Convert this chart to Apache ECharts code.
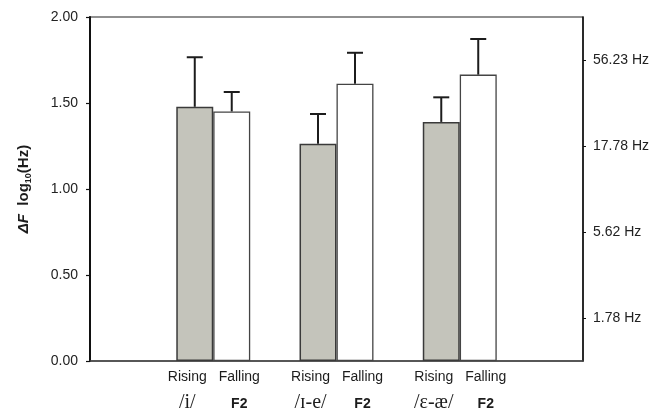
<!DOCTYPE html>
<html>
<head>
<meta charset="utf-8">
<script src="https://cdn.jsdelivr.net/npm/echarts@6/dist/echarts.min.js"></script>
<style>
  html, body { margin: 0; padding: 0; background: #fff; }
  #chart { width: 665px; height: 408px; }
</style>
</head>
<body>
<div id="chart"></div>
<script>
// Vowel groups; the empty first and last slots keep the groups off the frame edges
var vowels = ['', '/i/', '/\u026a-e/', '/\u025b-\u00e6/', ''];
// Mean frequency change, log10(Hz)
var risingMean = ['-', 1.478, 1.263, 1.390, '-'];
var fallingMean = ['-', 1.451, 1.612, 1.665, '-'];
// Upper error (log10 units above the mean)
var risingErr = [null, 0.288, 0.173, 0.143, null];
var fallingErr = [null, 0.113, 0.180, 0.207, null];
// Left axis ticks and right-axis (Hz) tick positions
var leftTicks = [0, 0.5, 1.0, 1.5, 2.0];
var hzTickLogs = [0.25, 0.75, 1.25, 1.75];
var hzTickLabels = hzTickLogs.map(function (v) { return Math.pow(10, v).toFixed(2) + ' Hz'; });

var SANS = 'Liberation Sans, Arial, sans-serif';
var SERIF = 'Liberation Serif, Times New Roman, serif';
var INK = '#1c1c1c';

function errorData(means, errs) {
  var out = [];
  for (var i = 0; i < means.length; i++) {
    if (means[i] !== '-' && errs[i] != null) out.push([i, means[i], means[i] + errs[i]]);
  }
  return out;
}

function errorRenderer(side) {
  return function (params, api) {
    var cat = api.value(0);
    var band = api.coord([1, 0])[0] - api.coord([0, 0])[0];
    var base = api.coord([cat, api.value(1)]);
    var top = api.coord([cat, api.value(2)]);
    var x = base[0] + side * band * 0.15;
    var style = { stroke: INK, lineWidth: 2 };
    return {
      type: 'group',
      children: [
        { type: 'line', shape: { x1: x, y1: base[1], x2: x, y2: top[1] }, style: style },
        { type: 'line', shape: { x1: x - 8, y1: top[1], x2: x + 8, y2: top[1] }, style: style }
      ]
    };
  };
}

var chart = echarts.init(document.getElementById('chart'), null, { renderer: 'canvas' });
chart.setOption({
  animation: false,
  backgroundColor: '#ffffff',
  grid: {
    left: 90, right: 82, top: 17, bottom: 47,
    containLabel: false,
    outerBoundsMode: 'none',
    show: true, borderColor: '#222', borderWidth: 1.2, backgroundColor: 'transparent'
  },
  xAxis: {
    type: 'category',
    data: vowels,
    boundaryGap: false,
    axisLine: { lineStyle: { color: '#444', width: 1.5 } },
    axisTick: { show: false },
    splitLine: { show: false },
    axisLabel: {
      interval: 0,
      margin: 5,
      formatter: function (v) {
        if (!v) return '';
        return '{r|Rising}{f|Falling}\n{p|' + v + '}{b|F2}';
      },
      rich: {
        r: { width: 52, align: 'center', fontFamily: SANS, fontSize: 14, color: INK, lineHeight: 22 },
        f: { width: 52, align: 'center', fontFamily: SANS, fontSize: 14, color: INK, lineHeight: 22 },
        p: { width: 52, align: 'center', fontFamily: SERIF, fontSize: 20, color: INK, lineHeight: 30 },
        b: { width: 52, align: 'center', fontFamily: SANS, fontSize: 14, fontWeight: 'bold', color: INK, lineHeight: 30, padding: [3, 0, 0, 0] }
      }
    }
  },
  yAxis: [
    {
      type: 'value',
      min: 0, max: 2, interval: 0.5,
      position: 'left',
      name: '{i|\u0394F}{n|  log}{s|10}{n|(Hz)}',
      nameLocation: 'middle',
      nameRotate: 90,
      nameGap: 57,
      nameTextStyle: {
        rich: {
          i: { fontFamily: SANS, fontSize: 15, fontWeight: 'bold', fontStyle: 'italic', color: INK, lineHeight: 18 },
          n: { fontFamily: SANS, fontSize: 15, fontWeight: 'bold', color: INK, lineHeight: 18 },
          s: { fontFamily: SANS, fontSize: 9, fontWeight: 'bold', color: INK, lineHeight: 18, verticalAlign: 'bottom' }
        }
      },
      axisLine: { show: true, lineStyle: { color: '#111', width: 2 } },
      axisTick: { show: true, length: 4, lineStyle: { color: '#111', width: 1.2 } },
      axisLabel: {
        margin: 12, fontFamily: SANS, fontSize: 14, color: '#222',
        customValues: leftTicks,
        formatter: function (v) { return v.toFixed(2); }
      },
      splitLine: { show: false }
    },
    {
      type: 'value',
      min: 0, max: 2,
      position: 'right',
      axisLine: { show: true, lineStyle: { color: '#111', width: 1.5 } },
      axisTick: { show: true, length: 3, customValues: hzTickLogs, lineStyle: { color: '#111', width: 1 } },
      axisLabel: {
        margin: 10, fontFamily: SANS, fontSize: 14, color: '#222',
        customValues: hzTickLogs,
        formatter: function (v) {
          var i = hzTickLogs.indexOf(v);
          return i >= 0 ? hzTickLabels[i] : '';
        }
      },
      splitLine: { show: false }
    }
  ],
  series: [
    {
      name: 'Rising',
      type: 'bar',
      data: risingMean,
      barWidth: '30%',
      barGap: '0%',
      itemStyle: { color: '#c4c4bb', borderColor: '#3a3a3a', borderWidth: 1.5 },
      z: 2
    },
    {
      name: 'Falling',
      type: 'bar',
      data: fallingMean,
      barWidth: '30%',
      barGap: '0%',
      itemStyle: { color: '#ffffff', borderColor: '#444', borderWidth: 1.3 },
      z: 2
    },
    {
      type: 'custom',
      data: errorData(risingMean, risingErr),
      renderItem: errorRenderer(-1),
      z: 3
    },
    {
      type: 'custom',
      data: errorData(fallingMean, fallingErr),
      renderItem: errorRenderer(1),
      z: 3
    }
  ]
});
</script>
</body>
</html>
